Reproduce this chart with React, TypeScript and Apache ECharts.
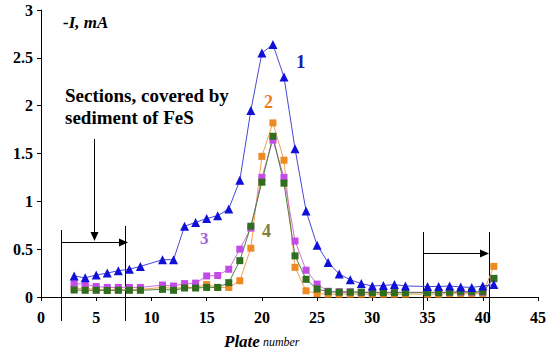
import React, { useEffect, useRef } from "react";
import * as echarts from "echarts";

const plates = [3, 4, 5, 6, 7, 8, 9, 11, 12, 13, 14, 15, 16, 17, 18, 19, 20, 21, 22, 23, 24, 25, 26, 27, 28, 29, 30, 31, 32, 33, 35, 36, 37, 38, 39, 40, 41];

const curve1 = [0.22, 0.2, 0.23, 0.25, 0.275, 0.29, 0.32, 0.39, 0.39, 0.74, 0.78, 0.82, 0.85, 0.92, 1.22, 1.95, 2.55, 2.64, 2.3, 1.55, 0.9, 0.54, 0.36, 0.24, 0.18, 0.14, 0.115, 0.12, 0.13, 0.115, 0.11, 0.11, 0.115, 0.105, 0.1, 0.115, 0.13];
const curve2 = [0.09, 0.09, 0.08, 0.075, 0.075, 0.08, 0.08, 0.1, 0.09, 0.1, 0.1, 0.13, 0.1, 0.1, 0.17, 0.51, 1.47, 1.82, 1.43, 0.31, 0.065, 0.035, 0.03, 0.03, 0.03, 0.03, 0.03, 0.03, 0.03, 0.03, 0.03, 0.03, 0.035, 0.035, 0.035, 0.035, 0.32];
const curve3 = [0.14, 0.135, 0.11, 0.1, 0.1, 0.1, 0.1, 0.125, 0.115, 0.14, 0.145, 0.22, 0.225, 0.29, 0.5, 0.72, 1.25, 1.64, 1.25, 0.585, 0.28, 0.135, 0.06, 0.055, 0.055, 0.05, 0.05, 0.05, 0.05, 0.05, 0.05, 0.05, 0.05, 0.05, 0.05, 0.05, 0.19];
const curve4 = [0.073, 0.07, 0.07, 0.068, 0.07, 0.07, 0.07, 0.08, 0.07, 0.094, 0.094, 0.1, 0.1, 0.15, 0.38, 0.74, 1.2, 1.68, 1.19, 0.43, 0.185, 0.084, 0.055, 0.05, 0.05, 0.05, 0.045, 0.045, 0.045, 0.045, 0.045, 0.045, 0.05, 0.055, 0.055, 0.055, 0.195];

const SERIF = "Liberation Serif";

function pairs(vals: number[]) {
  return plates.map((p, i) => [p, vals[i]]);
}

function txt(left: number, top: number, text: string, size: number, color: string, style = "normal", weight = "bold", extra: any = {}) {
  return {
    type: "text",
    left,
    top,
    style: { text, fontFamily: SERIF, fontSize: size, fontWeight: weight, fontStyle: style, fill: color, ...extra },
  };
}

export default function App() {
  const ref = useRef<HTMLDivElement>(null);
  useEffect(() => {
    if (!ref.current) return;
    const chart = echarts.init(ref.current, undefined, { renderer: "svg" });
    const lineStyleBlack = { stroke: "#000", lineWidth: 1 };
    chart.setOption({
      animation: false,
      backgroundColor: "#fff",
      grid: { left: 41, top: 10, width: 497, height: 287, containLabel: false },
      xAxis: {
        type: "value",
        min: 0,
        max: 45,
        interval: 5,
        splitLine: { show: false },
        axisLine: { lineStyle: { color: "#000", width: 1 } },
        axisTick: { show: true, length: 4, lineStyle: { color: "#000" } },
        axisLabel: { color: "#000", fontFamily: SERIF, fontWeight: "bold", fontSize: 16, margin: 12 },
      },
      yAxis: {
        type: "value",
        min: 0,
        max: 3,
        interval: 0.5,
        splitLine: { show: false },
        axisLine: { show: true, lineStyle: { color: "#000", width: 1 } },
        axisTick: { show: true, length: 4, lineStyle: { color: "#000" } },
        axisLabel: { color: "#000", fontFamily: SERIF, fontWeight: "bold", fontSize: 16, margin: 8 },
      },
      series: [
        {
          name: "2",
          type: "line",
          data: pairs(curve2),
          symbol: "rect",
          symbolSize: 7,
          itemStyle: { color: "#EE8A22" },
          lineStyle: { color: "#F2A050", width: 1 },
        },
        {
          name: "3",
          type: "line",
          data: pairs(curve3),
          symbol: "rect",
          symbolSize: 7,
          itemStyle: { color: "#C24CE6" },
          lineStyle: { color: "#D070E0", width: 1 },
        },
        {
          name: "4",
          type: "line",
          data: pairs(curve4),
          symbol: "rect",
          symbolSize: 7,
          itemStyle: { color: "#2E6E1E" },
          lineStyle: { color: "#4E7E3E", width: 1 },
        },
        {
          name: "1",
          type: "line",
          data: pairs(curve1),
          symbol: "triangle",
          symbolSize: 9,
          itemStyle: { color: "#1010D8" },
          lineStyle: { color: "#4848D8", width: 1 },
        },
      ],
      graphic: [
        txt(63, 14, "-I, mA", 17, "#000", "italic"),
        txt(65, 84, "Sections, covered by\nsediment of FeS", 19, "#000", "normal", "bold", { lineHeight: 22 }),
        txt(296, 52, "1", 19, "#1A1AB0"),
        txt(264, 93, "2", 18, "#F07A20"),
        txt(200, 230, "3", 17, "#A060E0"),
        txt(262, 222, "4", 18, "#7F7F3A"),
        {
          type: "text",
          left: 224,
          top: 333,
          style: {
            text: "{a|Plate}{b| number}",
            rich: {
              a: { fontFamily: SERIF, fontSize: 17, fontStyle: "italic", fontWeight: "bold", fill: "#000" },
              b: { fontFamily: SERIF, fontSize: 12, fontStyle: "italic", fontWeight: "normal", fill: "#000" },
            },
          },
        },
        // vertical arrow
        { type: "line", shape: { x1: 94.5, y1: 139, x2: 94.5, y2: 233 }, style: lineStyleBlack },
        { type: "polygon", shape: { points: [[90.5, 232], [98.5, 232], [94.5, 241]] }, style: { fill: "#000" } },
        // left bracket
        { type: "line", shape: { x1: 61.5, y1: 230, x2: 61.5, y2: 321 }, style: lineStyleBlack },
        { type: "line", shape: { x1: 125.5, y1: 226, x2: 125.5, y2: 321 }, style: lineStyleBlack },
        { type: "line", shape: { x1: 61.5, y1: 242.5, x2: 120, y2: 242.5 }, style: lineStyleBlack },
        { type: "polygon", shape: { points: [[119, 238.5], [119, 246.5], [128, 242.5]] }, style: { fill: "#000" } },
        // right bracket
        { type: "line", shape: { x1: 423.5, y1: 232, x2: 423.5, y2: 310 }, style: lineStyleBlack },
        { type: "line", shape: { x1: 489.5, y1: 232, x2: 489.5, y2: 322 }, style: lineStyleBlack },
        { type: "line", shape: { x1: 423.5, y1: 253.5, x2: 481, y2: 253.5 }, style: lineStyleBlack },
        { type: "polygon", shape: { points: [[480, 249.5], [480, 257.5], [489, 253.5]] }, style: { fill: "#000" } },
      ],
    });
    return () => chart.dispose();
  }, []);
  return <div ref={ref} style={{ position: "fixed", left: 0, top: 0, width: 550, height: 355 }} />;
}
